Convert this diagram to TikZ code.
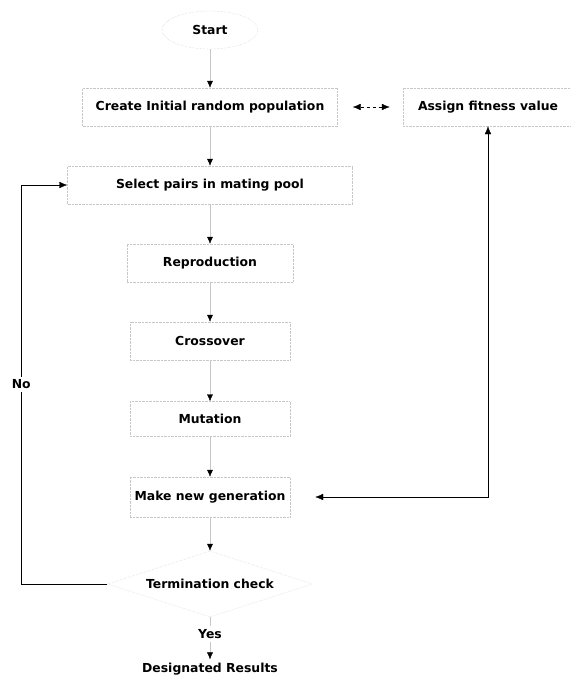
\documentclass[tikz,border=0pt]{standalone}
\usepackage{fontspec}
\setmainfont{DejaVu Sans}
\usetikzlibrary{shapes.geometric,arrows.meta}

\begin{document}
\begin{tikzpicture}[node distance=78pt, auto, font=\fontsize{12.4}{14}\selectfont\bfseries,
        >={Latex[length=8pt, width=6.5pt]},
        stage/.style={draw=black!22, densely dotted, rectangle, minimum height=38pt},
        link/.style={draw=black!22, -{Latex[color=black, length=7pt, width=6pt]}}]
        \useasboundingbox (0,0) rectangle (571pt,-681pt);
        \node (Start) [draw=black!22, densely dotted, ellipse, minimum width=96pt, minimum height=38pt] at (210pt,-30pt) {Start};
        \node (Create) [stage, minimum width=255pt, node distance=77pt, below of=Start] {Create Initial random population};
        \node (Assign) [stage, minimum width=170pt, node distance=278pt, right of=Create] {Assign fitness value};
        \node (Select) [stage, minimum width=285pt, below of=Create] {Select pairs in mating pool};
        \node (Reproduction) [stage, minimum width=166pt, below of=Select] {Reproduction};
        \node (Crossover) [stage, minimum width=160pt, below of=Reproduction] {Crossover};
        \node (Mutation) [stage, minimum width=160pt, minimum height=35pt, below of=Crossover] {Mutation};
        \node (NewGen) [stage, minimum width=160pt, minimum height=40pt, below of=Mutation] {Make new generation};
        \node (Check) [draw=black!22, densely dotted, diamond, aspect=3.1, inner sep=0pt, minimum width=205pt, minimum height=66pt, node distance=87pt, below of=NewGen] {Termination check};
        \node (Results) [node distance=85pt, below of=Check] {Designated Results};

        \draw [link] (Start) -- (Create);
        \draw [link] (Create) -- (Select);
        \draw [link] (Select) -- (Reproduction);
        \draw [link] (Reproduction) -- (Crossover);
        \draw [link] (Crossover) -- (Mutation);
        \draw [link] (Mutation) -- (NewGen);
        \draw [link] (NewGen) -- (Check);
        \draw [link] (Check) -- node [auto=false, fill=white, pos=0.4] {Yes} (Results);
        \draw [dashed, <->, shorten <=15pt, shorten >=13pt] (Create) -- (Assign);
        \draw [<->, shorten <=25pt] (NewGen.east) -| (Assign.south);
        \draw [->] (Check.west) -- ++(-86pt,0) |- node [auto=false, pos=0.25, fill=white] {No} (Select.west);
      \end{tikzpicture}
\end{document}
